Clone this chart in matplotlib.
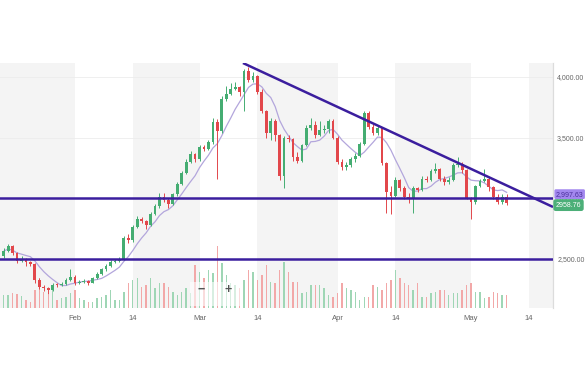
import matplotlib
matplotlib.use("Agg")
import matplotlib.pyplot as plt
import matplotlib.dates as mdates
import pandas as pd
import numpy as np

plt.rcParams["font.family"] = ["Liberation Sans", "DejaVu Sans"]

# daily candles (open of each day = previous close)
first_open = 2520
closes = [2560, 2600, 2545, 2480, 2495, 2470, 2455, 2320, 2265, 2255,
          2240, 2285, 2280, 2290, 2325, 2350, 2300, 2310, 2315, 2300,
          2340, 2375, 2410, 2440, 2470, 2480, 2490, 2670, 2650, 2760,
          2830, 2810, 2775, 2870, 2930, 3010, 2985, 2950, 3030, 3120,
          3210, 3300, 3360, 3320, 3420, 3405, 3460, 3630, 3550, 3820,
          3860, 3900, 3915, 3880, 4050, 3975, 4010, 3880, 3720, 3540,
          3640, 3520, 3180, 3500, 3485, 3340, 3310, 3440, 3580, 3600,
          3520, 3560, 3570, 3640, 3500, 3300, 3260, 3275, 3320, 3350,
          3450, 3700, 3590, 3540, 3580, 3290, 3050, 3020, 3150, 3080,
          3010, 3000, 3080, 3065, 3160, 3150, 3220, 3240, 3160, 3135,
          3150, 3270, 3280, 3230, 3000, 2970, 3100, 3140, 3155, 3090,
          3010, 2965, 3010, 2958.76]
highs = [2590, 2620, 2610, 2555, 2520, 2505, 2480, 2465, 2335, 2280,
         2265, 2300, 2295, 2305, 2340, 2410, 2360, 2325, 2330, 2325,
         2350, 2390, 2425, 2455, 2490, 2500, 2510, 2690, 2700, 2775,
         2850, 2845, 2820, 2885, 2950, 3040, 3040, 3000, 3045, 3135,
         3225, 3320, 3390, 3375, 3440, 3440, 3480, 3660, 3650, 3840,
         3930, 3950, 3960, 3930, 4070, 4080, 4040, 4020, 3900, 3730,
         3660, 3650, 3530, 3510, 3520, 3495, 3380, 3450, 3600, 3660,
         3640, 3640, 3600, 3650, 3650, 3510, 3320, 3300, 3340, 3370,
         3460, 3720, 3720, 3610, 3600, 3590, 3300, 3100, 3170, 3160,
         3100, 3040, 3100, 3090, 3180, 3180, 3240, 3290, 3250, 3180,
         3170, 3290, 3340, 3300, 3240, 3010, 3110, 3160, 3240, 3170,
         3100, 3030, 3030, 3030]
lows = [2505, 2550, 2530, 2460, 2470, 2440, 2440, 2300, 2250, 2235,
        2205, 2230, 2265, 2270, 2280, 2315, 2285, 2290, 2300, 2285,
        2295, 2330, 2365, 2400, 2430, 2465, 2470, 2485, 2630, 2640,
        2750, 2790, 2740, 2765, 2860, 2920, 2970, 2920, 2940, 3020,
        3110, 3200, 3290, 3300, 3310, 3390, 3395, 3450, 3160, 3540,
        3800, 3850, 3890, 3840, 3720, 3960, 3960, 3860, 3700, 3500,
        3480, 3470, 3150, 3080, 3460, 3310, 3290, 3300, 3430, 3560,
        3500, 3510, 3540, 3540, 3490, 3280, 3230, 3230, 3260, 3300,
        3340, 3440, 3570, 3520, 3520, 3270, 2880, 2870, 3010, 3060,
        2990, 2960, 2880, 3050, 3055, 3130, 3140, 3210, 3140, 3110,
        3120, 3140, 3260, 3210, 2990, 2830, 2950, 3090, 3130, 3060,
        2990, 2950, 2950, 2945]
volumes = [13, 13, 15, 14, 12, 8, 6, 18, 30, 16,
           13, 18, 8, 10, 11, 15, 18, 10, 8, 6,
           6, 10, 11, 13, 18, 8, 8, 16, 25, 28,
           30, 21, 23, 30, 20, 25, 25, 21, 16, 13,
           16, 20, 15, 43, 36, 30, 38, 35, 62, 45,
           33, 25, 23, 20, 28, 38, 36, 28, 33, 43,
           26, 25, 38, 46, 36, 26, 26, 15, 16, 23,
           23, 23, 20, 13, 11, 15, 25, 20, 18, 16,
           8, 11, 11, 23, 21, 18, 25, 28, 38, 30,
           25, 23, 18, 25, 11, 11, 15, 16, 18, 18,
           13, 15, 15, 18, 23, 25, 16, 16, 10, 11,
           16, 15, 13, 13]
dates = pd.date_range("2022-01-16", periods=len(closes), freq="D")

support_levels = [3000, 2500]
trend_start = ("2022-03-10 18:00", 4116)
trend_end = ("2022-05-19 10:00", 2926)
last_price = closes[-1]
line_label_price = 2997.63

green = "#45ad72"
red = "#e2474b"
vgreen = "#9fd6b5"
vred = "#f2a8a8"
purple = "#3b1e9e"

opens = [first_open] + closes[:-1]
up = np.array(closes) >= np.array(opens)
x = mdates.date2num(dates)

fig = plt.figure(figsize=(5.85, 3.9), dpi=100)
ax2 = fig.add_axes([0, 1 - 308 / 390, 553 / 585, 245 / 390])
ax = ax2.twinx()
ax.set_zorder(ax2.get_zorder() + 1)
ax.patch.set_visible(False)

# alternating half-month shading
for m in range(1, 6):
    s = pd.Timestamp(2022, m, 14)
    e = pd.Timestamp(2022, m + 1, 1)
    ax2.axvspan(s, e, color="#f4f4f4", lw=0, zorder=0)

# volume
ax2.bar(x, volumes, width=0.32, color=[vgreen if u else vred for u in up], zorder=2)
ax2.set_ylim(0, max(volumes) * 3.95)
ax2.set_yticks([])

# price
for lvl in [2500, 3000, 3500, 4000]:
    ax.axhline(lvl, color="#ececec", lw=0.6, zorder=1)

# moving average
ma = pd.Series(closes).rolling(7, min_periods=1).mean()
ax.plot(x, ma, color="#b3a6dc", lw=0.9, zorder=3)

cols = [green if u else red for u in up]
ax.vlines(x, lows, highs, color=cols, lw=0.7, zorder=4)
body_lo = np.minimum(opens, closes)
body_h = np.maximum(np.abs(np.array(closes) - np.array(opens)), 6)
ax.bar(x, body_h, bottom=body_lo, width=0.62, color=cols, zorder=5)

for lvl in support_levels:
    ax.axhline(lvl, color=purple, lw=1.8, zorder=6)
tx = mdates.date2num(pd.to_datetime([trend_start[0], trend_end[0]]))
ax.plot(tx, [trend_start[1], trend_end[1]], color=purple, lw=1.8, zorder=6,
        solid_capstyle="butt")

ax.set_xlim(pd.Timestamp("2022-01-15 04:00"), pd.Timestamp("2022-05-19 10:00"))
ax.set_ylim(2091, 4116)

# axes styling
for a in (ax, ax2):
    for sp in ["top", "left", "bottom"]:
        a.spines[sp].set_visible(False)
    a.spines["right"].set_color("#dcdcdc")
    a.spines["right"].set_linewidth(0.8)

ax.yaxis.tick_right()
ax.set_yticks([2500, 3000, 3500, 4000])
ax.set_yticklabels(["2,500.00", "3,000.00", "3,500.00", "4,000.00"])
ax.tick_params(axis="y", length=0, pad=3, labelsize=5, labelcolor="#666666")

tick_dates = pd.to_datetime(["2022-02-01", "2022-02-14", "2022-03-01", "2022-03-14",
                             "2022-04-01", "2022-04-14", "2022-05-01", "2022-05-14"])
tick_labels = ["Feb", "14", "Mar", "14", "Apr", "14", "May", "14"]
ax2.set_xticks(tick_dates)
ax2.set_xticklabels(tick_labels)
ax2.tick_params(axis="x", length=0, pad=5, labelsize=5.5, labelcolor="#666666")
ax.tick_params(axis="x", length=0, labelbottom=False)

# price labels on the right (line label partly hidden behind last price, as in the source)
ax.annotate(f"{line_label_price:,.2f}", xy=(1, line_label_price), xycoords=ax.get_yaxis_transform(),
            xytext=(2, 3), textcoords="offset points", fontsize=5, color="#4a2f9a",
            va="center", ha="left", annotation_clip=False, zorder=8,
            bbox=dict(boxstyle="round,pad=0.2", fc="#a287ee", ec="none"))
ax.annotate(f"{last_price:.2f}", xy=(1, last_price), xycoords=ax.get_yaxis_transform(),
            xytext=(2, -1.5), textcoords="offset points", fontsize=5, color="white",
            va="center", ha="left", annotation_clip=False, zorder=9,
            bbox=dict(boxstyle="round,pad=0.35", fc="#4caf78", ec="none"))

# zoom control overlay
ax.add_patch(plt.Rectangle((190 / 553, 2 / 245), 50 / 553, 24 / 245, transform=ax.transAxes,
                           fc="white", ec="none", alpha=0.6, zorder=7))
ax.text(201 / 553, 18 / 245, "\u2212", transform=ax.transAxes, fontsize=9, color="#555555",
        ha="center", va="center", fontweight="bold", zorder=8)
ax.text(228 / 553, 18 / 245, "+", transform=ax.transAxes, fontsize=9, color="#555555",
        ha="center", va="center", fontweight="bold", zorder=8)

fig.savefig("out.png", dpi=100)
